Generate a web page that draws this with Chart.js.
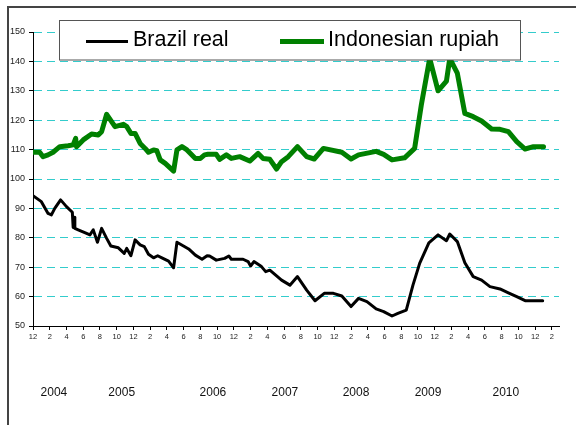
<!DOCTYPE html>
<html>
<head>
<meta charset="utf-8">
<script src="https://cdn.jsdelivr.net/npm/chart.js@4"></script>
<style>
  html, body { margin: 0; padding: 0; background: #fff; }
  #wrap { width: 576px; height: 425px; }
</style>
</head>
<body>
<div id="wrap"><canvas id="fxChart" width="576" height="425"></canvas></div>
<script>
// x values are months counted from Dec 2003 (one axis tick = 2 months)
const brazilMonths = [0, 1.0, 1.8, 2.2, 2.6, 3.3, 4.0, 4.7, 4.8, 4.9, 5.0, 5.4, 6.4, 6.8, 7.2, 7.7, 8.2, 8.8, 9.3,
  10.2, 10.9, 11.2, 11.7, 12.2, 12.8, 13.3, 13.8, 14.4, 14.9, 15.4, 16.2, 16.8, 17.2, 18.6, 19.4, 20.2, 20.8,
  21.1, 21.9, 22.9, 23.4, 23.7, 25.1, 25.7, 26.0, 26.4, 27.3, 27.8, 28.3, 29.7, 30.7, 31.6, 32.7, 33.7, 34.8,
  35.9, 36.9, 38.0, 38.9, 39.9, 41.0, 41.9, 42.9, 43.6, 44.6, 45.4, 46.2, 47.3, 48.4, 49.4, 49.8, 50.7, 51.6,
  52.6, 53.6, 54.6, 55.8, 56.8, 57.8, 58.8, 59.8, 60.9];
const brazilValues = [94.3, 92.3, 88.3, 87.8, 90.0, 92.9, 90.6, 88.7, 83.5, 87.0, 83.2, 82.7, 81.5, 81.0, 82.7, 78.5, 83.2, 79.8, 77.2,
  76.6, 74.7, 76.4, 73.9, 79.3, 77.6, 77.0, 74.4, 73.2, 73.9, 73.2, 72.1, 69.8, 78.5, 76.2, 74.1, 72.7, 73.9,
  73.8, 72.4, 73.0, 73.8, 72.7, 72.7, 71.9, 70.4, 71.9, 70.2, 68.5, 69.0, 65.6, 63.9, 66.8, 62.2, 58.6, 61.1,
  61.1, 60.2, 56.6, 59.4, 58.3, 55.8, 54.9, 53.4, 54.3, 55.4, 63.9, 71.3, 78.3, 81.0, 79.0, 81.3, 78.7, 71.5,
  66.8, 65.6, 63.4, 62.6, 61.3, 60.0, 58.6, 58.6, 58.6];

const rupiahMonths = [0, 0.8, 1.2, 1.8, 2.4, 3.2, 4.2, 4.8, 5.1, 5.2, 6.0, 7.0, 7.8, 8.2, 8.8, 9.8, 10.8, 11.2, 11.7,
  12.2, 12.8, 13.4, 13.8, 14.4, 14.8, 15.2, 15.8, 16.8, 17.2, 17.8, 18.4, 19.4, 20.0, 20.5, 20.9, 21.9, 22.3,
  23.1, 23.7, 24.7, 25.9, 26.9, 27.5, 28.3, 29.1, 29.7, 30.5, 31.6, 32.7, 33.6, 34.7, 36.9, 38.0, 38.9, 41.0,
  41.9, 42.9, 44.4, 45.6, 46.4, 47.4, 48.4, 49.4, 49.8, 50.7, 51.6, 52.6, 53.6, 54.8, 55.8, 56.8, 57.8, 58.8,
  59.8, 61.0];
const rupiahValues = [109.1, 109.1, 107.6, 108.2, 109.1, 111.0, 111.3, 111.6, 113.8, 111.0, 113.3, 115.3, 115.0, 116.1, 122.0, 117.8, 118.6, 117.8, 115.5,
  115.5, 112.1, 110.4, 109.1, 109.9, 109.6, 106.5, 105.3, 102.7, 109.9, 111.0, 109.9, 107.0, 107.0, 108.2, 108.4, 108.4, 106.7,
  108.2, 107.0, 107.6, 106.1, 108.7, 107.0, 106.7, 103.4, 105.9, 107.6, 111.0, 107.6, 106.8, 110.4, 109.1, 106.8, 108.2, 109.4,
  108.4, 106.5, 107.2, 110.4, 125.2, 141.0, 130.0, 133.3, 141.0, 136.0, 122.3, 121.2, 119.7, 117.0, 116.9, 116.1, 112.7, 110.2,
  111.0, 111.0];

const tickMonths = [0, 2, 4, 6, 8, 10, 12, 14, 16, 18, 20, 22, 24, 26, 28, 30, 32, 34, 36, 38, 40, 42, 44, 46, 48, 50,
  52, 54, 56, 58, 60, 62];
const tickLabels = ["12", "2", "4", "6", "8", "10", "12", "2", "4", "6", "8", "10", "12", "2", "4", "6", "8", "10",
  "12", "2", "4", "6", "8", "10", "12", "2", "4", "6", "8", "10", "12", "2"];
const yearLabels = ["2004", "2005", "2006", "2007", "2008", "2009", "2010"];
const yearMonths = [2.5, 10.6, 21.5, 30.1, 38.6, 47.2, 56.5];
const seriesNames = ["Brazil real", "Indonesian rupiah"];

const FONT = "'Liberation Sans', Arial, sans-serif";

const decorPlugin = {
    id: "decor",
    afterDraw(chart) {
        const ctx = chart.ctx;
        const xs = chart.scales.x;
        ctx.save();

        // outer frame (top and left edges only are visible)
        ctx.fillStyle = "#444";
        ctx.fillRect(7, 6, 569, 2);
        ctx.fillRect(7, 6, 2, 419);

        // year labels under the month ticks
        ctx.fillStyle = "#111";
        ctx.font = "12px " + FONT;
        ctx.textAlign = "center";
        ctx.textBaseline = "middle";
        yearLabels.forEach((t, i) => {
            ctx.fillText(t, xs.getPixelForValue(yearMonths[i]), 393);
        });

        // legend box
        ctx.fillStyle = "#fff";
        ctx.fillRect(59.5, 20.5, 461, 39.5);
        ctx.strokeStyle = "#555";
        ctx.lineWidth = 1;
        ctx.strokeRect(59.5, 20.5, 461, 39.5);

        ctx.lineCap = "butt";
        ctx.strokeStyle = "#000";
        ctx.lineWidth = 3;
        ctx.beginPath();
        ctx.moveTo(86, 41.5);
        ctx.lineTo(128, 41.5);
        ctx.stroke();

        ctx.strokeStyle = "#008000";
        ctx.lineWidth = 5;
        ctx.beginPath();
        ctx.moveTo(280, 41.5);
        ctx.lineTo(324, 41.5);
        ctx.stroke();

        ctx.fillStyle = "#000";
        ctx.font = "21.5px " + FONT;
        ctx.textAlign = "left";
        ctx.textBaseline = "alphabetic";
        ctx.fillText(seriesNames[0], 133, 46);
        ctx.fillText(seriesNames[1], 328, 46);
        ctx.restore();
    }
};

const ctx = document.getElementById("fxChart").getContext("2d");

new Chart(ctx, {
    type: "line",
    data: {
        datasets: [
            {
                label: seriesNames[1],
                data: rupiahMonths.map((m, i) => ({ x: m, y: rupiahValues[i] })),
                borderColor: "#008000",
                borderWidth: 5,
                pointRadius: 0,
                tension: 0,
                borderJoinStyle: "round",
                borderCapStyle: "round"
            },
            {
                label: seriesNames[0],
                data: brazilMonths.map((m, i) => ({ x: m, y: brazilValues[i] })),
                borderColor: "#000",
                borderWidth: 3,
                pointRadius: 0,
                tension: 0,
                borderJoinStyle: "round",
                borderCapStyle: "round"
            }
        ]
    },
    options: {
        responsive: false,
        animation: false,
        devicePixelRatio: 1,
        layout: { padding: { left: 0, top: 32, right: 17, bottom: 0 } },
        plugins: {
            legend: { display: false },
            tooltip: { enabled: false }
        },
        scales: {
            x: {
                type: "linear",
                min: 0,
                max: 62.85,
                afterFit: (s) => { s.height = 99; },
                afterBuildTicks: (s) => { s.ticks = tickMonths.map((v) => ({ value: v })); },
                ticks: {
                    autoSkip: false,
                    maxRotation: 0,
                    padding: 2,
                    color: "#222",
                    font: { family: FONT, size: 7.5 },
                    callback: (v, i) => tickLabels[i]
                },
                grid: { drawOnChartArea: false, tickColor: "#000", tickLength: 4 },
                border: { color: "#000", width: 1 }
            },
            y: {
                min: 50,
                max: 150,
                afterFit: (s) => { s.width = 33; },
                ticks: {
                    stepSize: 10,
                    padding: 4,
                    color: "#222",
                    font: { family: FONT, size: 9 }
                },
                grid: {
                    color: (c) => (c.tick && c.tick.value === 50 ? "rgba(0,0,0,0)" : "#33cccc"),
                    tickColor: "#000",
                    tickLength: 4,
                    lineWidth: 1
                },
                border: { color: "#000", width: 1, dash: [8, 5] }
            }
        }
    },
    plugins: [decorPlugin]
});
</script>
</body>
</html>
